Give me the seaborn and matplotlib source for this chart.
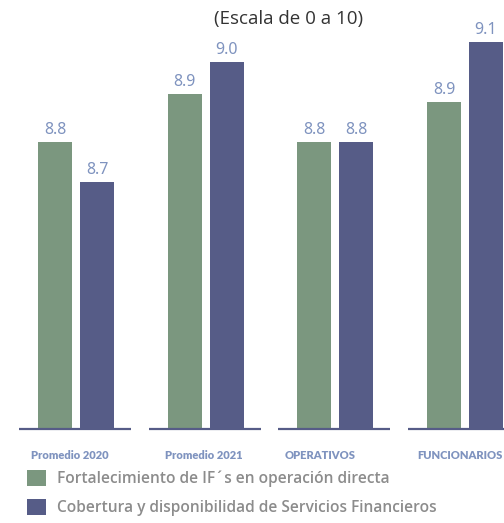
import pandas as pd
import matplotlib
matplotlib.use("Agg")
import matplotlib.pyplot as plt
import matplotlib.transforms as mtransforms
import seaborn as sns

# datos (escala de 0 a 10)
categorias = ["Promedio 2020", "Promedio 2021", "OPERATIVOS", "FUNCIONARIOS"]
series = ["Fortalecimiento de IF´s en operación directa",
          "Cobertura y disponibilidad de Servicios Financieros"]
valores_fortalecimiento = [8.80, 8.92, 8.80, 8.90]
valores_cobertura = [8.70, 9.00, 8.80, 9.05]
etiquetas_fortalecimiento = ["8.8", "8.9", "8.8", "8.9"]
etiquetas_cobertura = ["8.7", "9.0", "8.8", "9.1"]

verde = "#7b977f"
azul = "#565c87"
azul_texto = "#7f93bf"

df = pd.DataFrame({
    "categoria": categorias * 2,
    "serie": [series[0]] * 4 + [series[1]] * 4,
    "valor": valores_fortalecimiento + valores_cobertura,
})

sns.set_style("white")
plt.rcParams["font.family"] = ["Open Sans", "DejaVu Sans"]

fig = plt.figure(figsize=(5.04, 5.23), dpi=100)
ax = fig.add_axes([0, 94 / 523, 1, 429 / 523])

sns.barplot(data=df, x="categoria", y="valor", hue="serie",
            palette=[verde, azul], width=0.648, gap=0.19,
            saturation=1, linewidth=0, ax=ax)

ybase = 8.0825
ax.set_ylim(ybase, ybase + 429 / 400)
ax.set_xlim(-0.586, 3.301)

# linea base por grupo
for i in range(len(categorias)):
    ax.hlines(ybase, i - 0.44, i + 0.425, color=azul, lw=1.6,
              clip_on=False, zorder=5)

for cont, etiq in zip(ax.containers, [etiquetas_fortalecimiento, etiquetas_cobertura]):
    ax.bar_label(cont, labels=etiq, padding=3, color=azul_texto,
                 fontsize=11.5, family="Noto Sans")

sns.despine(ax=ax, left=True, bottom=True)
ax.set_yticks([])
ax.set_xlabel("")
ax.set_ylabel("")
ax.tick_params(axis="x", length=0, pad=15)
desplaz = [-0.06, -0.02, -0.15, -0.05]  # pulgadas, como en la original
for t, dx in zip(ax.get_xticklabels(), desplaz):
    t.set_fontsize(8.0)
    t.set_fontweight("heavy")
    t.set_family("Lato")
    t.set_color(azul_texto)
    t.set_transform(t.get_transform() +
                    mtransforms.ScaledTranslation(dx, 0, fig.dpi_scale_trans))

leg = ax.legend(loc="upper left", bbox_to_anchor=(27 / 504, -0.095),
                frameon=False, fontsize=11.2, handlelength=1.22,
                handleheight=1.22, handletextpad=0.7, labelspacing=0.75,
                borderaxespad=0, borderpad=0)
for t in leg.get_texts():
    t.set_color("#8c8c8c")
    t.set_fontweight("semibold")

fig.text(289 / 504, 1 - 19 / 523, "(Escala de 0 a 10)", ha="center",
         va="center", fontsize=13.5, color="#333333")

fig.savefig("out.png", dpi=100)
